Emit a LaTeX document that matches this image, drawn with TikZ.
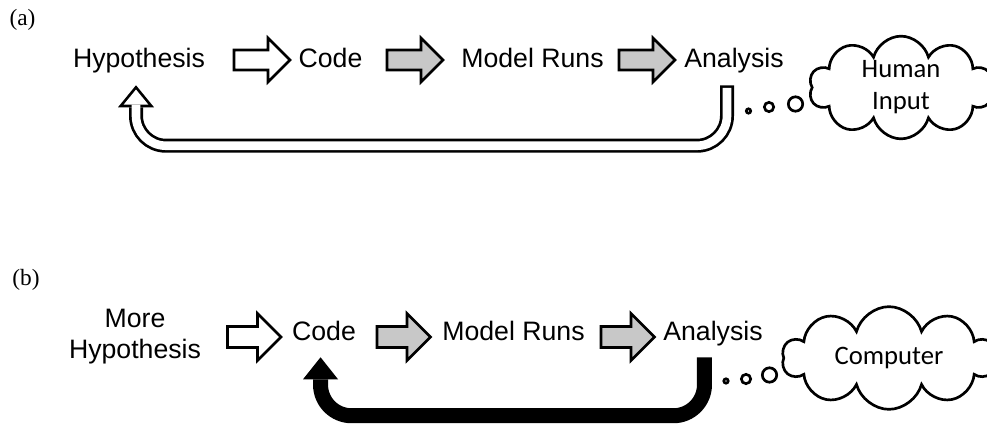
\documentclass[tikz,border=0pt]{standalone}
\usepackage{fontspec}
\setmainfont{Liberation Sans}
\newfontfamily\cloudfont{Carlito}
\newfontfamily\panelfont{Liberation Serif}
\usetikzlibrary{arrows.meta,shapes.arrows,shapes.symbols}
\definecolor{arrowgray}{RGB}{200,200,200}
\tikzset{
  steptext/.style={inner sep=0pt,anchor=base,font=\fontsize{20}{24}\selectfont,
    text height=15pt,text depth=4.5pt},
  stacktext/.style={inner sep=0pt,anchor=base,align=center,
    font=\fontsize{20}{23.25}\selectfont},
  panellabel/.style={inner sep=0pt,font=\panelfont\fontsize{17.5}{20}\selectfont},
  blockarrow/.style={single arrow,draw=black,line width=2pt,inner xsep=0pt,
    single arrow tip angle=90},
  rowa/.style={blockarrow,minimum height=42pt,inner ysep=6.5pt,single arrow head extend=9pt},
  rowb/.style={blockarrow,minimum height=40pt,inner ysep=6.85pt,single arrow head extend=9.75pt},
  thought/.style={cloud,cloud puffs=10,cloud ignores aspect,draw=black,line width=2pt,
    align=center,inner sep=0pt,font=\cloudfont\fontsize{20}{24}\selectfont},
  bubble/.style={circle,draw=black,line width=2pt,inner sep=0pt},
  loopedge/.style={line width=10.5pt,rounded corners=22.5pt,
    -{Triangle[width=27pt,length=16.5pt,line width=0pt]}},
  loopcore/.style={white,line width=6.45pt,rounded corners=22.5pt,
    -{Triangle[width=18.4pt,length=11.25pt,line width=0pt]}},
  computerloop/.style={line width=11.25pt,rounded corners=23.25pt,
    -{Triangle[width=26.25pt,length=16.5pt,line width=0pt]}}
}

\begin{document}
\begin{tikzpicture}[x=0.75pt,y=-0.75pt]
  \useasboundingbox[fill=white] (0,0) rectangle (987,424);

  \node[panellabel] (panela) at (22.5,20) {(a)};
  \node[steptext] (hypoa) at (139,68) {Hypothesis};
  \node[steptext] (codea) at (330.5,68) {Code};
  \node[steptext] (runsa) at (532.5,68) {Model Runs};
  \node[steptext] (analysisa) at (734,68) {Analysis};
  \node[rowa,fill=white] (stepa1) at (257,60) {};
  \node[rowa,fill=arrowgray] (stepa2) at (410,60) {};
  \node[rowa,fill=arrowgray] (stepa3) at (642,60) {};
  \node[thought,minimum width=138pt,minimum height=77pt] (humana) at (901,87.5) {Human\\Input};
  \node[bubble,minimum size=3.3pt] (dota1) at (748.5,111) {};
  \node[bubble,minimum size=7pt] (dota2) at (769,107) {};
  \node[bubble,minimum size=10.8pt] (dota3) at (795.5,104) {};

  \draw[loopedge] ([xshift=-5.25pt,yshift=-8.25pt]analysisa.south)
    |- ([xshift=-2.25pt,yshift=-53.6pt]hypoa.south)
    -- ([xshift=-2.25pt,yshift=-8.25pt]hypoa.south);
  \draw[loopcore] ([xshift=-5.25pt,yshift=-10.25pt]analysisa.south)
    |- ([xshift=-2.25pt,yshift=-53.6pt]hypoa.south)
    -- ([xshift=-2.25pt,yshift=-11.45pt]hypoa.south);

  \node[panellabel] (panelb) at (26,280) {(b)};
  \node[stacktext] (hypob) at (135,358) {More\\Hypothesis};
  \node[steptext] (codeb) at (324,340) {Code};
  \node[steptext] (runsb) at (513.5,340) {Model Runs};
  \node[steptext] (analysisb) at (713,340) {Analysis};
  \node[rowb,fill=white] (stepb1) at (249,337) {};
  \node[rowb,fill=arrowgray] (stepb2) at (398.5,337) {};
  \node[rowb,fill=arrowgray] (stepb3) at (622.5,337) {};
  \node[thought,minimum width=160pt,minimum height=77pt] (computerb) at (889,358) {Computer};
  \node[bubble,minimum size=3.3pt] (dotb1) at (726,381) {};
  \node[bubble,minimum size=7pt] (dotb2) at (746,379) {};
  \node[bubble,minimum size=10.8pt] (dotb3) at (769.5,375) {};

  \draw[computerloop] ([xshift=-6.4pt,yshift=-8.25pt]analysisb.south)
    |- ([xshift=-2.6pt,yshift=-52.1pt]codeb.south)
    -- ([xshift=-2.6pt,yshift=-8.25pt]codeb.south);
\end{tikzpicture}
\end{document}
